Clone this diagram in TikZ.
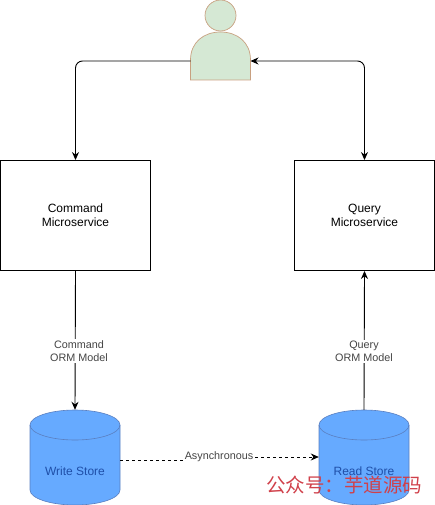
\documentclass[tikz,border=0pt]{standalone}
\usepackage{fontspec}
\setmainfont{Liberation Sans}
\newfontfamily\cjk{Noto Sans CJK SC}
\usetikzlibrary{arrows.meta}
\definecolor{personfill}{HTML}{D5E8D4}
\definecolor{personline}{HTML}{C8A080}
\definecolor{storefill}{HTML}{66AAFF}
\definecolor{storeline}{HTML}{5A7FC0}
\definecolor{storetext}{HTML}{1F4FA8}
\definecolor{labeltext}{HTML}{444444}
\definecolor{markred}{HTML}{D0404A}
\tikzset{
  x=1pt,y=-1pt,
  box/.style={draw=black,line width=0.9pt,fill=white,minimum width=150pt,minimum height=110pt,inner sep=0pt,align=center,font=\fontsize{12}{14}\selectfont},
  conn/.style={draw=black,line width=0.9pt,-{Stealth[length=8pt,width=7pt]},rounded corners=7pt},
  both/.style={conn,{Stealth[length=8pt,width=7pt]}-{Stealth[length=8pt,width=7pt]}},
  asyncline/.style={draw=black,line width=0.8pt,dashed},
  edgelabel/.style={fill=white,inner sep=1.5pt,text=labeltext,align=center,font=\fontsize{10.8}{13}\selectfont},
  storelabel/.style={text=storetext,font=\fontsize{12}{14}\selectfont,inner sep=0pt},
}
\newcommand{\storeshape}[1]{%
  \fill[storefill,draw=storeline,line width=0.6pt] (#1,425) arc[x radius=45,y radius=15,start angle=180,end angle=360] -- (#1+90,490) arc[x radius=45,y radius=15,start angle=0,end angle=180] -- cycle;
  \draw[storeline,line width=0.6pt] (#1,425) arc[x radius=45,y radius=15,start angle=180,end angle=0];
}
\begin{document}
\begin{tikzpicture}
\useasboundingbox (0,0) rectangle (435,505);
% person
\filldraw[fill=personfill,draw=personline,line width=0.7pt] (220.5,15.5) circle[radius=15.5];
\filldraw[fill=personfill,draw=personline,line width=0.7pt] (190.5,80) -- (190.5,60) .. controls (190.5,42) and (204,32) .. (220.5,32) .. controls (237,32) and (250.5,42) .. (250.5,60) -- (250.5,80) -- cycle;
\coordinate (pl) at (190.5,61);
\coordinate (pr) at (250.5,61);
% boxes
\node[box] (cmd) at (75.5,215.5) {Command\\Microservice};
\node[box,minimum width=140pt] (qry) at (364.5,215.5) {Query\\Microservice};
% stores
\storeshape{30}
\storeshape{319}
\node[inner sep=0pt,minimum width=90pt,minimum height=95pt] (ws) at (75,457.5) {};
\node[inner sep=0pt,minimum width=90pt,minimum height=95pt] (rs) at (364,457.5) {};
\node[storelabel] (wl) at (75,471) {Write Store};
\node[storelabel] (rl) at (364,471) {Read Store};
% connectors
\draw[conn] (pl) -| (cmd.north);
\draw[both] (pr) -| (qry.north);
\draw[conn] (cmd.south) -- (ws.north);
\draw[conn] (rs.north) -- (qry.south);
\node[edgelabel] (cl) at (79,351) {Command\\ORM Model};
\node[edgelabel] (ql) at (364,351.5) {Query\\ORM Model};
\node[edgelabel,inner xsep=2pt] (al) at (219,457) {Asynchronous};
\draw[asyncline] (ws.east |- 0,460) -- (al.west |- 0,460);
\draw[asyncline,-{Stealth[length=8pt,width=7pt]}] (al.east) -- (rs.west |- 0,457);
% watermark
\node[text=markred,inner sep=0pt,anchor=west,font=\cjk\fontsize{19.5}{20}\selectfont] (wm) at (266,485) {公众号：芋道源码};
\end{tikzpicture}
\end{document}
